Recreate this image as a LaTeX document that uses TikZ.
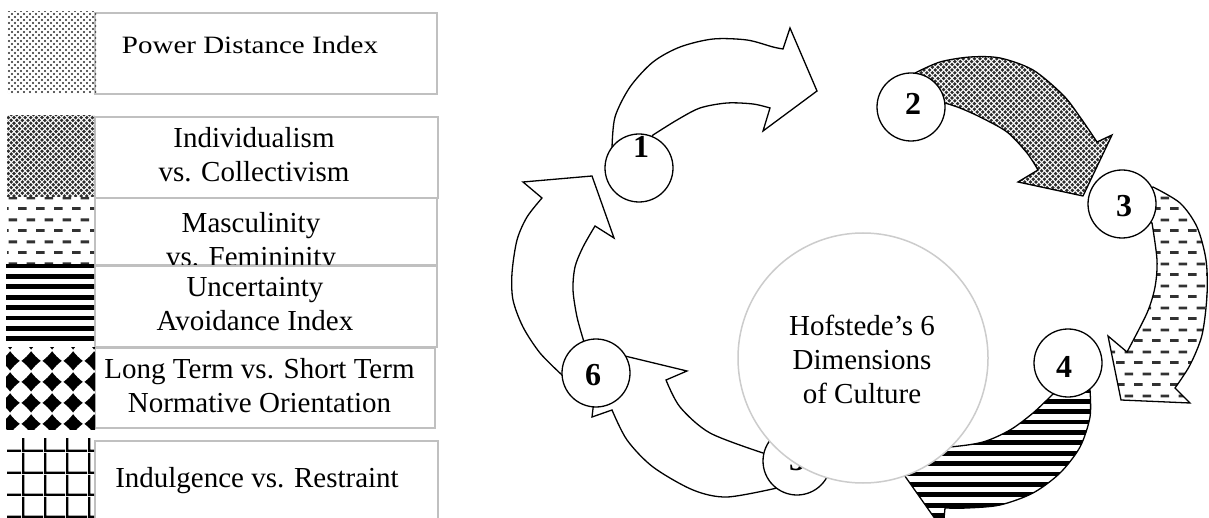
\documentclass[tikz,border=0pt]{standalone}
\usepackage{fontspec}
\setmainfont{Liberation Serif}
\usetikzlibrary{patterns}
\definecolor{boxgray}{RGB}{192,192,192}
\definecolor{hubgray}{RGB}{204,204,204}
\definecolor{dotgray}{RGB}{40,40,40}
\definecolor{crossgray}{RGB}{45,45,45}
\definecolor{dashgray}{RGB}{50,50,50}

\pgfdeclarepatternformonly{pdots}{\pgfqpoint{-1.5pt}{-1.5pt}}{\pgfqpoint{4.5pt}{4.5pt}}{\pgfqpoint{6pt}{6pt}}{%
  \pgfpathcircle{\pgfqpoint{0pt}{0pt}}{1.05pt}%
  \pgfpathcircle{\pgfqpoint{3pt}{3pt}}{1.05pt}%
  \pgfusepath{fill}}
\pgfdeclarepatternformonly{pcross}{\pgfqpoint{-2.5pt}{-2.5pt}}{\pgfqpoint{5.3pt}{5.3pt}}{\pgfqpoint{5.6pt}{5.6pt}}{%
  \pgfpathcircle{\pgfqpoint{0pt}{0pt}}{1.85pt}%
  \pgfpathcircle{\pgfqpoint{2.8pt}{2.8pt}}{1.85pt}%
  \pgfusepath{fill}}
\pgfdeclarepatternformonly{pdash}{\pgfqpoint{0pt}{0pt}}{\pgfqpoint{18pt}{22pt}}{\pgfqpoint{18pt}{22pt}}{%
  \pgfpathrectangle{\pgfqpoint{0pt}{0pt}}{\pgfqpoint{9pt}{3pt}}%
  \pgfpathrectangle{\pgfqpoint{9pt}{11pt}}{\pgfqpoint{9pt}{3pt}}%
  \pgfusepath{fill}}
\pgfdeclarepatternformonly{phlines}{\pgfqpoint{-1pt}{-0.2pt}}{\pgfqpoint{11pt}{5pt}}{\pgfqpoint{10pt}{10.4pt}}{%
  \pgfpathrectangle{\pgfqpoint{-1pt}{0pt}}{\pgfqpoint{12pt}{4.8pt}}%
  \pgfusepath{fill}}
\pgfdeclarepatternformonly{pdiamond}{\pgfqpoint{0pt}{0pt}}{\pgfqpoint{21pt}{21pt}}{\pgfqpoint{21pt}{21pt}}{%
  \pgfpathmoveto{\pgfqpoint{20.5pt}{10.5pt}}%
  \pgfpathquadraticcurveto{\pgfqpoint{14.8pt}{14.8pt}}{\pgfqpoint{10.5pt}{20.5pt}}%
  \pgfpathquadraticcurveto{\pgfqpoint{6.2pt}{14.8pt}}{\pgfqpoint{0.5pt}{10.5pt}}%
  \pgfpathquadraticcurveto{\pgfqpoint{6.2pt}{6.2pt}}{\pgfqpoint{10.5pt}{0.5pt}}%
  \pgfpathquadraticcurveto{\pgfqpoint{14.8pt}{6.2pt}}{\pgfqpoint{20.5pt}{10.5pt}}%
  \pgfpathclose
  \pgfusepath{fill}}
\pgfdeclarepatternformonly{pgridx}{\pgfqpoint{0pt}{0pt}}{\pgfqpoint{22pt}{22pt}}{\pgfqpoint{22pt}{22pt}}{%
  \pgfpathrectangle{\pgfqpoint{0pt}{0pt}}{\pgfqpoint{22pt}{2.5pt}}%
  \pgfpathrectangle{\pgfqpoint{0pt}{0pt}}{\pgfqpoint{2.5pt}{22pt}}%
  \pgfusepath{fill}}

\tikzset{
  legbox/.style={draw=boxgray, line width=1.4pt, fill=white},
  legtxt/.style={font=\fontsize{29}{34}\selectfont, align=center, inner sep=0pt},
  blockarrow/.style={draw=black, line width=1.3pt, line join=miter},
  numcirc/.style={circle, draw=black, line width=1.3pt, fill=white, minimum size=68pt, inner sep=0pt},
  numtxt/.style={font=\fontsize{32}{32}\selectfont\bfseries, inner sep=0pt},
  hub/.style={circle, draw=hubgray, line width=1.5pt, fill=white, minimum size=250pt, inner sep=0pt},
}

\begin{document}
\begin{tikzpicture}[x=1pt,y=-1pt]
\useasboundingbox (0,0) rectangle (1209,518);
\clip (0,0) rectangle (1209,518);
\fill[white] (0,0) rectangle (1209,518);

% ---------- legend ----------
\draw[legbox] (95,13) rectangle (437,94);
\fill[pattern=pdots, pattern color=dotgray] (7,12) rectangle (96,94);
\node[legtxt, anchor=base] (t1) at (250,54) {\scalebox{1}[0.86]{Power Distance Index}};

\draw[legbox] (95,117) rectangle (438,198);
\fill[pattern=pcross, pattern color=crossgray] (7,116) rectangle (94,197);
\node[legtxt] (t2) at (254,155.1) {Individualism\\vs. Collectivism};

\draw[legbox] (95,198) rectangle (437,265);
\fill[white] (7,198) rectangle (94,265);
\fill[pattern=pdash, pattern color=dashgray] (7,198) rectangle (94,265);
\node[legtxt] (t3) at (251,242.3) {Masculinity\\vs. Femininity};

\draw[legbox] (95,266) rectangle (437,347);
\fill[white] (6,265) rectangle (94,347);
\fill[pattern=phlines, pattern color=black] (6,265) rectangle (94,347);
\node[legtxt] (t4) at (255,304.4) {Uncertainty\\Avoidance Index};

\draw[legbox] (95,348) rectangle (435,428);
\fill[white] (6,347) rectangle (95,429);
\fill[pattern=pdiamond, pattern color=black] (6,347) rectangle (95,429);
\node[legtxt] (t5) at (259.5,385.1) {Long Term vs. Short Term\\Normative Orientation};

\draw[legbox] (95,441) rectangle (438,525);
\fill[pattern=pgridx, pattern color=black] (7,438) rectangle (94,520);
\node[legtxt, anchor=base] (t6) at (257,487) {Indulgence vs. Restraint};

% ---------- block arrows ----------
% arrow 1
\draw[blockarrow, fill=white] (630,170) -- plot[smooth] coordinates {(612,148) (615,117) (630,87) (653,62) (680,47) (713,39) (747,40) (773,47) (783,49)}
  -- (790,28) -- (817,91) -- (763,131)
  -- plot[smooth] coordinates {(770,108) (753,104) (727,103) (700,108) (677,120) (653,135)} -- cycle;
% arrow 2
\draw[blockarrow, pattern=pcross, pattern color=crossgray] (912,110) -- plot[smooth] coordinates {(915,73) (940,62) (970,57) (1000,58) (1033,70) (1063,95) (1080,117) (1097,142)}
  -- (1112,135) -- (1083,196) -- (1018,182)
  -- plot[smooth] coordinates {(1038,170) (1027,153) (1007,132) (980,117) (960,108) (945,103)} -- cycle;
% arrow 3
\draw[blockarrow, pattern=pdash, pattern color=dashgray] (1124,205) -- plot[smooth] coordinates {(1153,187) (1180,203) (1197,227) (1206,260) (1207,295) (1202,335) (1190,365) (1175,388)}
  -- (1190,403) -- (1121,400) -- (1108,336)
  -- plot[smooth] coordinates {(1127,352) (1147,313) (1155,287) (1157,260) (1152,223)} -- cycle;
% arrow 4
\draw[blockarrow, pattern=phlines, pattern color=black] (1068,380) -- plot[smooth] coordinates {(1090,390) (1090,417) (1080,447) (1060,473) (1033,493) (1000,505) (967,508) (945,508)}
  -- (942,540) -- (950,540) -- (883,445)
  -- plot[smooth] coordinates {(900,450) (950,447) (983,442) (1010,430) (1033,413) (1052,395)} -- cycle;
% arrow 5
\draw[blockarrow, fill=white] (795,470) -- plot[smooth] coordinates {(777,488) (727,497) (693,490) (653,467) (627,440) (612,410)}
  -- (592,417) -- (600,350) -- (687,371)
  -- plot[smooth] coordinates {(666,380) (680,407) (710,433) (763,453)} -- cycle;
% arrow 6
\draw[blockarrow, fill=white] (596,370) -- plot[smooth] coordinates {(562,375) (540,353) (523,327) (513,300) (512,273) (517,240) (527,217) (542,198)}
  -- (523,182) -- (592,176) -- (614,238)
  -- plot[smooth] coordinates {(595,226) (583,247) (575,267) (573,290) (577,317) (584,342)} -- cycle;

% ---------- number circles ----------
\node[numcirc] (c1) at (639,168) {};
\node[numcirc] (c2) at (911,107) {};
\node[numcirc] (c3) at (1122,204) {};
\node[numcirc] (c4) at (1068,363) {};
\node[numcirc] (c5) at (797,461) {};
\node[numcirc] (c6) at (596,373) {};
\node[numtxt] (n1) at (641,147) {1};
\node[numtxt] (n2) at (913,104) {2};
\node[numtxt] (n3) at (1124,206) {3};
\node[numtxt] (n4) at (1064,367) {4};
\node[numtxt] (n5) at (797,460) {5};
\node[numtxt] (n6) at (593,375) {6};

% ---------- hub ----------
\node[hub] (hubc) at (863,358) {};
\node[legtxt] (hubtxt) at (862,359.1) {Hofstede’s 6\\Dimensions\\of Culture};
\end{tikzpicture}
\end{document}
